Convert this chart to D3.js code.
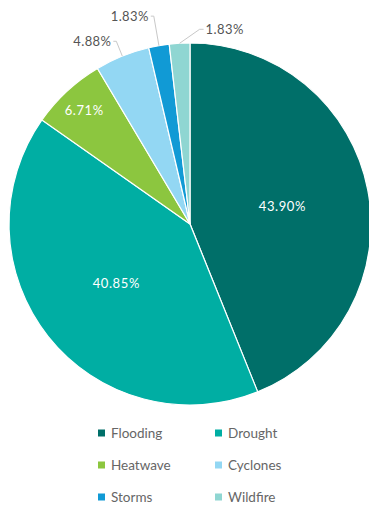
<!DOCTYPE html>
<html lang="en">
<head>
    <meta charset="UTF-8">
    <title>Hazards</title>
    <script src="https://d3js.org/d3.v7.min.js"></script>
    <style>
        body { margin: 0; background: #fff; }
        text { font-family: Lato, "Open Sans", sans-serif; }
    </style>
</head>
<body>
    <div id="chart"></div>
    <script>
        // Data
        const categories = ["Flooding", "Drought", "Heatwave", "Cyclones", "Storms", "Wildfire"];
        const values = [43.90, 40.85, 6.71, 4.88, 1.83, 1.83];
        const colors = ["#006f69", "#00aea3", "#8cc63f", "#93d7f3", "#119ad5", "#8fd6d2"];

        const W = 369, H = 506;
        const cx = 190, cy = 224, r = 181;

        const svg = d3.select("#chart").append("svg")
            .attr("width", W).attr("height", H);

        const g = svg.append("g").attr("transform", "translate(" + cx + "," + cy + ")");

        const color = d3.scaleOrdinal().domain(categories).range(colors);

        const pie = d3.pie().sort(null).value(d => d.value);
        const data = pie(categories.map((c, i) => ({ name: c, value: values[i] })));

        const arc = d3.arc().innerRadius(0).outerRadius(r);

        g.selectAll("path.slice")
            .data(data)
            .join("path")
            .attr("class", "slice")
            .attr("d", arc)
            .attr("fill", d => color(d.data.name))
            .attr("stroke", "#fff")
            .attr("stroke-width", 1.2);

        // point at a given radius along the middle of a slice
        function at(d, rad) {
            const a = (d.startAngle + d.endAngle) / 2;
            return [rad * Math.sin(a), -rad * Math.cos(a)];
        }

        const fmt = v => v.toFixed(2) + "%";

        // inside labels for large slices
        data.forEach((d, i) => {
            const share = d.data.value;
            if (share < 5) return;
            const rad = share > 20 ? r * 0.52 : r * 0.86;
            const p = at(d, rad);
            g.append("text")
                .attr("x", p[0]).attr("y", p[1])
                .attr("text-anchor", "middle")
                .attr("dominant-baseline", "central")
                .attr("fill", "#fff")
                .attr("font-size", 13)
                .attr("letter-spacing", 0.6)
                .text(fmt(share));
        });

        // outside labels with leader lines for small slices
        const small = data.filter(d => d.data.value < 5);
        small.forEach((d, k) => {
            const p0 = at(d, r);
            let p1, p2, anchor;
            if (k === small.length - 1) {
                // last one goes up and to the right
                p1 = [p0[0] + 20, p0[1] - 14];
                p2 = [p1[0] + 4, p1[1]];
                anchor = "start";
            } else {
                const ext = k === 0 ? 16 : 30;
                p1 = at(d, r + ext);
                p2 = [p1[0] - 3, p1[1]];
                anchor = "end";
            }
            g.append("polyline")
                .attr("points", [p0, p1, p2].map(p => p.join(",")).join(" "))
                .attr("fill", "none")
                .attr("stroke", "#c8c8c8")
                .attr("stroke-width", 1);
            g.append("text")
                .attr("x", p2[0] + (anchor === "start" ? 2 : -2))
                .attr("y", p2[1])
                .attr("text-anchor", anchor)
                .attr("dominant-baseline", "central")
                .attr("fill", "#555")
                .attr("font-size", 13)
                .attr("letter-spacing", 0.4)
                .text(fmt(d.data.value));
        });

        // legend, two columns
        const legend = svg.append("g");
        const colX = d3.scalePoint().domain([0, 1]).range([98, 215]);
        const rowY = d3.scalePoint().domain([0, 1, 2]).range([433, 497]);

        const items = legend.selectAll("g")
            .data(categories)
            .join("g")
            .attr("transform", (c, i) => "translate(" + colX(i % 2) + "," + rowY(Math.floor(i / 2)) + ")");

        items.append("rect")
            .attr("x", 0).attr("y", -3.5)
            .attr("width", 7).attr("height", 7)
            .attr("fill", c => color(c));

        items.append("text")
            .attr("x", 13).attr("y", 0)
            .attr("dominant-baseline", "central")
            .attr("fill", "#666")
            .attr("font-size", 13.5)
            .text(c => c);
    </script>
</body>
</html>
